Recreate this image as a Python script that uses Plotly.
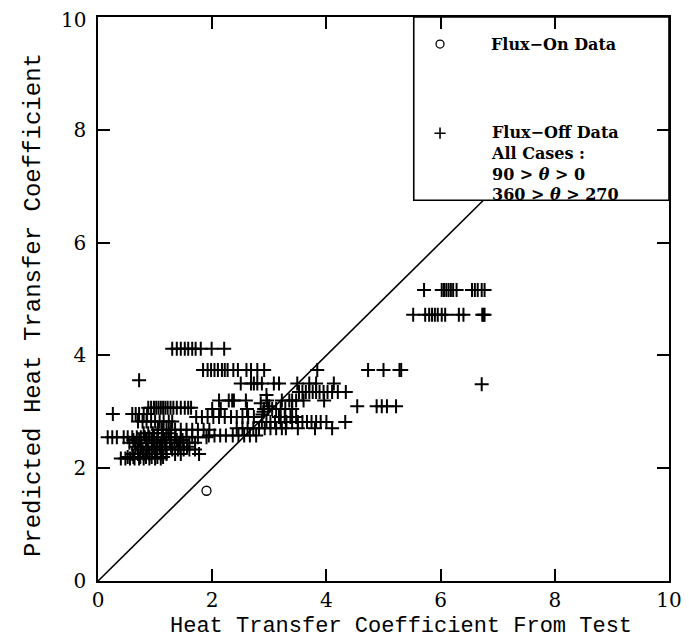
import plotly.graph_objects as go

# ---- data ----
# Flux-off data, grouped by rows of (nearly) equal predicted value
row_y = [4.12, 3.74, 3.74, 3.56, 3.50, 3.35, 3.20, 3.07, 3.05, 2.96, 2.91, 2.83, 2.82,
         2.71, 2.68, 2.62, 2.58, 2.55, 2.50, 2.45, 2.38, 2.33, 2.25, 2.20, 2.17,
         5.16, 4.72, 3.10, 3.49]
row_x = [
    [1.30, 1.38, 1.45, 1.52, 1.58, 1.65, 1.71, 1.80, 1.99, 2.21],
    [1.84, 1.92, 1.98, 2.04, 2.10, 2.17, 2.22, 2.27, 2.37, 2.45, 2.60, 2.68, 2.79, 2.91],
    [3.84, 4.73, 5.00, 5.28, 5.31],
    [0.72],
    [2.50, 2.68, 2.73, 2.79, 2.87, 3.08, 3.17, 3.49, 3.70, 3.82, 4.13],
    [3.52, 3.58, 3.64, 3.70, 3.76, 3.82, 3.88, 3.95, 4.02, 4.10, 4.20, 4.34],
    [2.12, 2.29, 2.35, 2.38, 2.59, 2.96, 3.22, 3.35, 3.40, 3.47, 3.60, 3.96],
    [0.88, 0.93, 0.98, 1.02, 1.06, 1.10, 1.14, 1.18, 1.22, 1.27, 1.32, 1.38, 1.45, 1.52, 1.58, 1.63],
    [2.00, 2.15, 2.61, 2.91, 2.98, 3.05, 3.12, 3.20, 3.28, 3.40],
    [0.26, 0.60, 0.66, 0.72, 0.80, 0.86],
    [1.72, 1.82, 1.92, 2.02, 2.12, 2.22, 2.33, 2.43, 2.53, 2.63, 2.73, 3.17, 3.27, 3.37, 3.47],
    [0.70, 0.78, 0.85, 0.93, 1.00, 1.08, 1.15, 1.24, 1.30],
    [2.87, 2.95, 3.02, 3.10, 3.20, 3.30, 3.40, 3.50, 3.58, 3.66, 3.74, 3.82, 3.90, 4.00, 4.33],
    [2.43, 2.53, 2.62, 2.72, 2.82, 2.92, 3.02, 3.12, 3.22, 3.29, 3.50, 3.80, 4.10],
    [1.05, 1.12, 1.20, 1.28, 1.35, 1.45, 1.55, 1.65, 1.75, 1.85, 1.95],
    [0.80, 0.88, 0.96, 1.04, 1.14, 1.24],
    [1.94, 2.04, 2.14, 2.24, 2.36, 2.46, 2.56, 2.66, 2.77],
    [0.17, 0.25, 0.33, 0.45, 0.52, 0.60, 0.68, 0.75, 0.82, 0.90, 0.98, 1.05, 1.12, 1.20,
     1.28, 1.36, 1.45, 1.55, 1.65, 1.75, 1.90],
    [0.62, 0.72, 0.84, 0.94, 1.04, 1.16, 1.26, 1.38, 1.48],
    [0.55, 0.65, 0.75, 0.85, 0.95, 1.02, 1.10, 1.18, 1.26, 1.34, 1.42, 1.50, 1.60, 1.70],
    [0.66, 0.76, 0.88, 0.98, 1.08, 1.18, 1.28, 1.44, 1.56],
    [0.70, 0.78, 0.86, 0.95, 1.03, 1.12, 1.20, 1.30, 1.40, 1.50, 1.60, 1.70],
    [0.60, 0.70, 0.80, 0.90, 1.00, 1.10, 1.20, 1.35, 1.45, 1.77],
    [0.52, 0.62, 0.74, 0.84, 0.94, 1.04, 1.14],
    [0.40, 0.48, 0.56, 0.64, 0.72, 0.80, 0.90, 1.00, 1.10],
    [5.71, 6.02, 6.06, 6.10, 6.14, 6.18, 6.22, 6.28, 6.55, 6.60, 6.65, 6.72, 6.77],
    [5.52, 5.73, 5.80, 5.85, 5.90, 5.95, 6.02, 6.08, 6.32, 6.40, 6.73, 6.75, 6.77],
    [4.54, 4.88, 4.97, 5.06, 5.22],
    [6.72],
]
# a few extra scattered flux-off points near the diagonal
extra_x = [2.85, 2.90, 2.95, 3.00, 2.88]
extra_y = [3.15, 3.00, 3.30, 3.10, 2.95]

# Flux-on data
on_x = [1.90]
on_y = [1.60]

# perfect-agreement line (ends at the legend box)
diag = [0.0, 6.75]

x_ticks = [0, 2, 4, 6, 8, 10]
y_ticks = [0, 2, 4, 6, 8, 10]
# top y label ("10") is drawn as an annotation a few pixels lower so it fits the window
y_ticktext = ["0", "2", "4", "6", "8", ""]
y_top_label = "10"

x_title = "Heat Transfer Coefficient From Test"
y_title = "Predicted Heat Transfer Coefficient"
legend_on = "Flux\u2212On Data"
legend_off = ["Flux\u2212Off Data", "All Cases :", "90 > <i>\u03b8</i> > 0", "360 > <i>\u03b8</i> > 270"]

# ---- build ----
off_x, off_y = [], []
for yv, xs in zip(row_y, row_x):
    off_x += xs
    off_y += [yv] * len(xs)
off_x += extra_x
off_y += extra_y

SERIF = "DejaVu Serif"
MONO = "Liberation Mono"
fig = go.Figure()

fig.add_trace(go.Scatter(x=diag, y=diag, mode="lines",
                         line=dict(color="black", width=1.6), showlegend=False, hoverinfo="skip"))
fig.add_trace(go.Scatter(x=off_x, y=off_y, mode="markers", showlegend=False,
                         marker=dict(symbol="cross-thin", size=10, color="black",
                                     line=dict(color="black", width=2))))
fig.add_trace(go.Scatter(x=on_x, y=on_y, mode="markers", showlegend=False,
                         marker=dict(symbol="circle-open", size=9, color="black",
                                     line=dict(color="black", width=1.3))))

# legend box (manual)
lx0, ly0 = 5.53, 6.75
fig.add_shape(type="rect", x0=lx0, x1=10, y0=ly0, y1=10, xref="x", yref="y",
              line=dict(color="black", width=1.6), fillcolor="white", layer="below")
fig.add_trace(go.Scatter(x=[5.99], y=[9.52], mode="markers", showlegend=False,
                         marker=dict(symbol="circle-open", size=8, color="black",
                                     line=dict(color="black", width=1.3))))
fig.add_trace(go.Scatter(x=[5.99], y=[7.94], mode="markers", showlegend=False,
                         marker=dict(symbol="cross-thin", size=8, color="black",
                                     line=dict(color="black", width=1.6))))
legend_font = dict(family=SERIF, size=16, color="black")
fig.add_annotation(x=6.85, y=9.52, text="<b>" + legend_on + "</b>", showarrow=False,
                   xanchor="left", yanchor="middle", font=legend_font)
fig.add_annotation(x=6.85, y=7.40, text="<br>".join("<b>" + t + "</b>" for t in legend_off),
                   showarrow=False, xanchor="left", yanchor="middle", align="left",
                   font=legend_font)

# axis titles as annotations
fig.add_annotation(x=0.531, y=-0.0807, xref="paper", yref="paper", text=x_title,
                   showarrow=False, xanchor="center", yanchor="middle",
                   font=dict(family=MONO, size=22, color="black"))
fig.add_annotation(x=-0.114, y=0.489, xref="paper", yref="paper", text=y_title,
                   showarrow=False, xanchor="center", yanchor="middle", textangle=-90,
                   font=dict(family=MONO, size=24, color="black"))

tick_font = dict(family=SERIF, size=20, color="black")
fig.add_annotation(x=0, y=0.9947, xref="paper", yref="paper", text=y_top_label,
                   showarrow=False, xanchor="right", yanchor="middle", xshift=-10,
                   font=tick_font)

axis_common = dict(range=[0, 10], ticks="inside", ticklen=12, automargin=False,
                   tickwidth=1.6, tickcolor="black", showline=True, linecolor="black",
                   linewidth=1.6, mirror="ticks", showgrid=False, zeroline=False,
                   ticklabeloverflow="allow", tickfont=tick_font)
fig.update_xaxes(**axis_common, tickvals=x_ticks)
fig.update_yaxes(**axis_common, tickvals=y_ticks, ticktext=y_ticktext, ticklabelstandoff=6)

# the page body adds an 8px offset, so the figure is sized to fit the window
fig.update_layout(width=681, height=631, plot_bgcolor="white", paper_bgcolor="white",
                  margin=dict(l=90, r=20, t=9, b=58), showlegend=False)

fig.write_html("out.html")
